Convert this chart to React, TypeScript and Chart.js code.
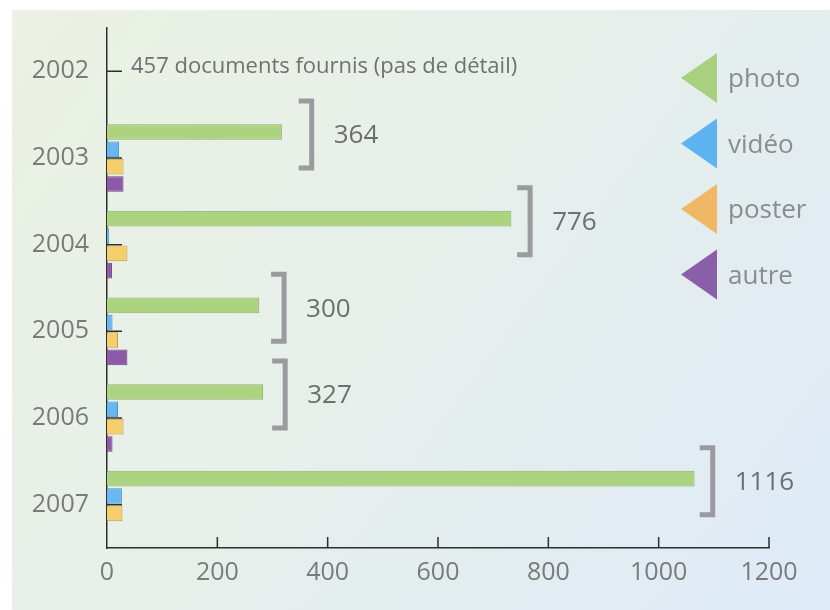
import React, { useEffect, useRef } from "react";
import { Chart, registerables } from "chart.js";

Chart.register(...registerables);

// ---- data ----
const years = ["2002", "2003", "2004", "2005", "2006", "2007"];
const photo = [null, 317, 733, 276, 283, 1065];
const video = [null, 22, 4, 10, 20, 27];
const poster = [null, 30, 37, 20, 30, 28];
const autre = [null, 30, 9, 37, 10, 0];
const totals = [null, 364, 776, 300, 327, 1116];
const bracketAt = [null, 371, 767, 321, 323, 1098];
const note2002 = "457 documents fournis (pas de détail)";
const seriesNames = ["photo", "vidéo", "poster", "autre"];
const xTicks = [0, 200, 400, 600, 800, 1000, 1200];

// ---- styles ----
const FONT = "'Open Sans', 'DejaVu Sans', sans-serif";
const barFill = ["#acd37f", "#66b7f2", "#f6cf6c", "#8c5aa9"];
const barEdge = ["#8fae6c", "#4d8cc0", "#b99a4e", "#6a4582"];
const legendFill = ["#a9d07f", "#5eb2f0", "#f0b866", "#8a5ea8"];

const bgPlugin = {
  id: "bg",
  beforeDraw(chart: any) {
    const { ctx, width, height } = chart;
    ctx.save();
    ctx.fillStyle = "#ffffff";
    ctx.fillRect(0, 0, width, height);
    const g = ctx.createLinearGradient(12, 10, width, height);
    g.addColorStop(0, "#ebf2e3");
    g.addColorStop(0.5, "#e6efeb");
    g.addColorStop(1, "#deeaf8");
    ctx.fillStyle = g;
    ctx.fillRect(12, 10, width - 12, height - 10);
    ctx.restore();
  },
};

const ticksPlugin = {
  id: "insideTicks",
  beforeDatasetsDraw(chart: any) {
    const { ctx } = chart;
    const xs = chart.scales.x;
    const ys = chart.scales.y;
    ctx.save();
    ctx.strokeStyle = "#2e2e2e";
    ctx.lineWidth = 1.5;
    ctx.beginPath();
    xTicks.forEach((v) => {
      if (v === 0) return;
      const px = xs.getPixelForValue(v);
      ctx.moveTo(px, ys.bottom);
      ctx.lineTo(px, ys.bottom - 11);
    });
    years.forEach((_, i) => {
      const py = ys.getPixelForValue(i);
      ctx.moveTo(xs.left, py);
      ctx.lineTo(xs.left + 15, py);
    });
    ctx.stroke();
    ctx.restore();
  },
};

const annotPlugin = {
  id: "annot",
  afterDatasetsDraw(chart: any) {
    const { ctx } = chart;
    const xs = chart.scales.x;
    const ys = chart.scales.y;
    ctx.save();
    // 2002 note
    ctx.fillStyle = "#707070";
    ctx.font = `22px ${FONT}`;
    ctx.textAlign = "left";
    ctx.textBaseline = "middle";
    ctx.fillText(note2002, xs.getPixelForValue(0) + 24, ys.getPixelForValue(0) - 5);
    // brackets
    for (let i = 0; i < years.length; i++) {
      if (totals[i] == null) continue;
      const x = xs.getPixelForValue(bracketAt[i] as number);
      const yc = ys.getPixelForValue(i);
      ctx.strokeStyle = "#9a9a9f";
      ctx.lineWidth = 5;
      ctx.lineJoin = "miter";
      ctx.lineCap = "butt";
      ctx.beginPath();
      ctx.moveTo(x - 13, yc - 57);
      ctx.lineTo(x, yc - 57);
      ctx.lineTo(x, yc + 10);
      ctx.lineTo(x - 13, yc + 10);
      ctx.stroke();
      ctx.fillStyle = "#6e6e6e";
      ctx.font = `26px ${FONT}`;
      ctx.textAlign = "left";
      ctx.textBaseline = "middle";
      ctx.fillText(String(totals[i]), x + 22, yc - 22);
    }
    ctx.restore();
  },
  afterDraw(chart: any) {
    const { ctx } = chart;
    ctx.save();
    chart.data.datasets.forEach((ds: any, i: number) => {
      const cy = 78 + i * 65.5;
      ctx.fillStyle = legendFill[i];
      ctx.beginPath();
      ctx.moveTo(681, cy);
      ctx.lineTo(717, cy - 25);
      ctx.lineTo(717, cy + 25);
      ctx.closePath();
      ctx.fill();
      ctx.fillStyle = "#8c8c8c";
      ctx.font = `26px ${FONT}`;
      ctx.textAlign = "left";
      ctx.textBaseline = "middle";
      ctx.fillText(ds.label, 728, cy + 2);
    });
    ctx.restore();
  },
};

export default function App() {
  const ref = useRef<HTMLCanvasElement | null>(null);
  useEffect(() => {
    if (!ref.current) return;
    const series = [photo, video, poster, autre];
    const chart = new Chart(ref.current, {
      type: "bar",
      data: {
        labels: years,
        datasets: series.map((d, i) => ({
          label: seriesNames[i],
          data: d as any,
          backgroundColor: barFill[i],
          borderColor: barEdge[i],
          borderWidth: 1,
          categoryPercentage: 0.8,
          barPercentage: 0.9,
        })),
      },
      options: {
        indexAxis: "y",
        animation: false,
        responsive: false,
        devicePixelRatio: 1,
        layout: { padding: { top: 28, right: 61, left: 0, bottom: 0 } },
        plugins: { legend: { display: false }, tooltip: { enabled: false } },
        scales: {
          x: {
            min: 0,
            max: 1200,
            afterBuildTicks: (s: any) => {
              s.ticks = xTicks.map((v) => ({ value: v }));
            },
            ticks: {
              color: "#7a7a7a",
              font: { family: FONT, size: 25 },
              padding: 2,
              maxRotation: 0,
              callback: (v: any) => String(v),
            },
            grid: { display: false },
            border: { display: true, color: "#2e2e2e", width: 1.5 },
            afterFit: (s: any) => {
              s.height = 62;
            },
          },
          y: {
            ticks: {
              color: "#7a7a7a",
              font: { family: FONT, size: 25 },
              padding: 10,
            },
            grid: { display: false },
            border: { display: true, color: "#2e2e2e", width: 1.5 },
            afterFit: (s: any) => {
              s.width = 107;
            },
          },
        },
      },
      plugins: [bgPlugin, ticksPlugin, annotPlugin],
    });
    return () => chart.destroy();
  }, []);
  return (
    <div style={{ position: "fixed", left: 0, top: 0, width: 830, height: 610 }}>
      <canvas ref={ref} width={830} height={610} style={{ display: "block" }} />
    </div>
  );
}
